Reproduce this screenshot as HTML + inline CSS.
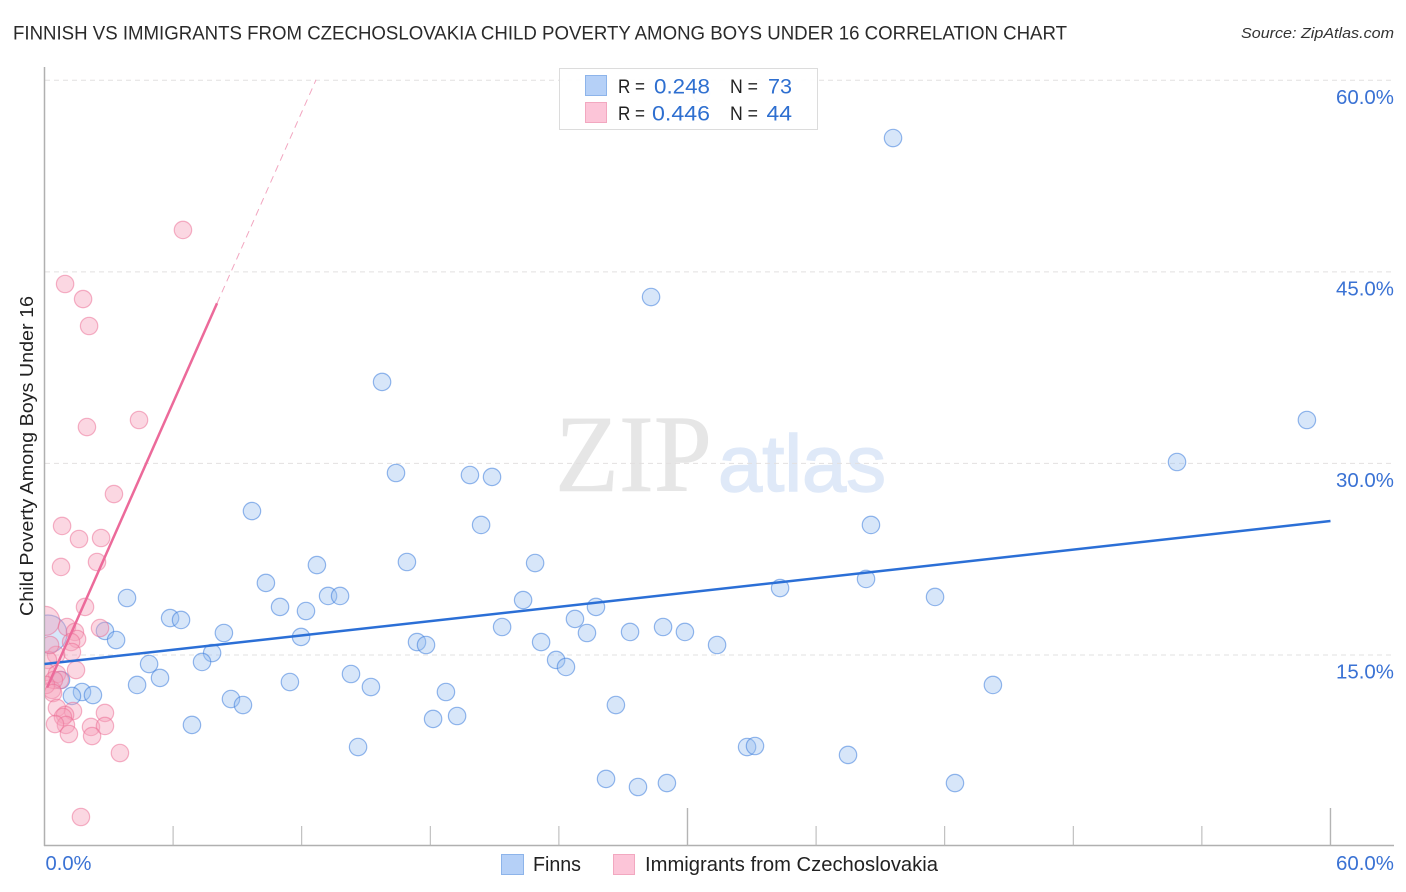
<!DOCTYPE html>
<html lang="en">
<head>
<meta charset="utf-8">
<title>Finnish vs Immigrants from Czechoslovakia Child Poverty Correlation Chart</title>
<style>
html,body{margin:0;padding:0;background:#fff}
svg{display:block}
text{font-family:"Liberation Sans",sans-serif}
</style>
</head>
<body>
<svg id="chart" width="1406" height="892" viewBox="0 0 1406 892" xmlns="http://www.w3.org/2000/svg">
  <defs>
    <clipPath id="plot-clip"><rect x="45" y="68" width="1349" height="778"/></clipPath>
  </defs>
  <text x="13" y="39.5" font-size="19" fill="#2a2a2a" textLength="1054" lengthAdjust="spacingAndGlyphs">FINNISH VS IMMIGRANTS FROM CZECHOSLOVAKIA CHILD POVERTY AMONG BOYS UNDER 16 CORRELATION CHART</text>
  <text x="1241" y="38" font-size="15" font-style="italic" fill="#333" textLength="153" lengthAdjust="spacingAndGlyphs">Source: ZipAtlas.com</text>

  <g>
    <text x="555" y="491" font-size="110" fill="#e6e6e6" stroke="#e6e6e6" stroke-width="0.6" textLength="157" lengthAdjust="spacingAndGlyphs" style="font-family:'Liberation Serif',serif">ZIP</text>
    <text x="718" y="491" font-size="80" fill="#dfe9f8" stroke="#dfe9f8" stroke-width="1.5" textLength="168" lengthAdjust="spacingAndGlyphs">atlas</text>
  </g>

  <g id="grid"></g>
  <g id="axes"></g>
  <g id="points" clip-path="url(#plot-clip)"></g>
  <g id="trends"></g>
  <g id="labels"></g>

  <text transform="translate(33,616) rotate(-90)" x="0" y="0" font-size="18.5" fill="#222" textLength="320" lengthAdjust="spacingAndGlyphs">Child Poverty Among Boys Under 16</text>

  <g>
    <rect x="559.5" y="68.5" width="258" height="61" fill="#fff" fill-opacity="0.92" stroke="#dcdcdc"/>
    <rect x="585.5" y="75.5" width="21" height="20" fill="#b5d0f7" stroke="#8db4ea"/>
    <rect x="585.5" y="102.5" width="21" height="20" fill="#fcc5d8" stroke="#f2a8c0"/>
    <text x="618" y="93" font-size="19.5" fill="#222" textLength="27" lengthAdjust="spacingAndGlyphs">R =</text>
    <text x="654" y="93.5" font-size="21" fill="#2e6fd0" textLength="56" lengthAdjust="spacingAndGlyphs">0.248</text>
    <text x="730" y="93" font-size="19.5" fill="#222" textLength="28" lengthAdjust="spacingAndGlyphs">N =</text>
    <text x="768" y="93.5" font-size="21" fill="#2e6fd0" textLength="24" lengthAdjust="spacingAndGlyphs">73</text>
    <text x="618" y="120" font-size="19.5" fill="#222" textLength="27" lengthAdjust="spacingAndGlyphs">R =</text>
    <text x="652" y="120.5" font-size="21" fill="#2e6fd0" textLength="58" lengthAdjust="spacingAndGlyphs">0.446</text>
    <text x="730" y="120" font-size="19.5" fill="#222" textLength="28" lengthAdjust="spacingAndGlyphs">N =</text>
    <text x="766.5" y="120.5" font-size="21" fill="#2e6fd0" textLength="25.5" lengthAdjust="spacingAndGlyphs">44</text>
  </g>

  <g>
    <rect x="501.5" y="854.5" width="22" height="20" fill="#b5d0f7" stroke="#8db4ea"/>
    <text x="533" y="871" font-size="20" fill="#222" textLength="48" lengthAdjust="spacingAndGlyphs">Finns</text>
    <rect x="613.5" y="854.5" width="21" height="20" fill="#fcc5d8" stroke="#f2a8c0"/>
    <text x="645" y="871" font-size="20" fill="#222" textLength="293" lengthAdjust="spacingAndGlyphs">Immigrants from Czechoslovakia</text>
  </g>
</svg>
<script>
const yTickValues = [15, 30, 45, 60];
const yTickLabels = ["15.0%", "30.0%", "45.0%", "60.0%"];
const xTickValues = [6, 12, 18, 24, 30, 36, 42, 48, 54, 60];
const xTallTicks = [30, 60];
const xEndValues = [0, 60];
const xEndLabels = ["0.0%", "60.0%"];

const finnsX = [39.59,28.30,15.75,58.90,52.84,16.40,19.85,20.88,9.68,20.37,38.56,22.89,16.91,12.71,10.33,34.32,38.33,3.85,13.23,13.79,41.55,22.33,10.99,12.20,25.73,5.86,6.37,24.75,21.35,2.82,28.86,27.32,29.88,25.31,8.37,3.34,11.97,23.17,17.38,17.80,31.38,7.82,7.35,23.87,24.33,4.88,14.30,5.39,11.45,4.32,15.23,44.25,0.77,1.75,2.26,1.28,18.73,8.70,9.26,26.66,18.13,19.25,6.88,14.63,32.78,33.15,37.49,26.20,27.69,29.04,42.48,30.63];
const finnsY = [55.44,42.99,36.34,33.36,30.07,29.21,29.05,28.90,26.23,25.14,25.14,22.16,22.24,22.00,20.60,20.20,20.91,19.42,19.58,19.58,19.50,19.26,18.72,18.40,18.72,17.85,17.70,17.78,17.15,16.84,17.15,16.76,16.76,16.68,16.68,16.13,16.37,15.97,15.97,15.74,15.74,15.11,14.41,14.57,14.02,14.25,13.47,13.16,12.84,12.61,12.45,12.61,13.00,12.06,11.82,11.75,12.06,11.51,11.04,11.04,9.95,10.18,9.48,7.75,7.75,7.83,7.13,5.25,4.62,4.93,4.93,58.97];
const finnsClusterX = [0.16];
const finnsClusterY = [16.60];

const immigrantsX = [6.46,0.96,1.80,2.08,1.98,4.41,3.24,0.82,1.61,2.64,0.77,2.45,1.89,1.05,1.42,1.52,1.24,1.28,2.59,0.54,1.47,0.16,0.07,0.58,0.72,0.35,0.44,0.07,0.40,0.58,1.33,0.96,0.86,1.00,0.49,1.14,2.17,2.82,2.82,2.22,3.52,1.70,0.26];
const immigrantsY = [48.24,44.01,42.83,40.72,32.81,33.36,27.56,25.06,24.04,24.12,21.85,22.24,18.72,17.15,16.76,16.21,15.97,15.19,17.07,14.96,13.78,14.57,13.63,13.47,13.00,12.22,13.00,12.61,11.98,10.81,10.57,10.26,10.10,9.48,9.55,8.77,9.32,10.42,9.40,8.61,7.28,2.27,15.74];
const immigrantsClusterX = [0.03];
const immigrantsClusterY = [17.63];

const finnsTrendX = [0, 60];
const finnsTrendY = [14.25, 25.45];
const immigrantsTrendX = [0.12, 8.05];
const immigrantsTrendY = [12.4, 42.5];
const immigrantsExtensionX = [8.05, 12.67];
const immigrantsExtensionY = [42.5, 60];

const SVG_NS = "http://www.w3.org/2000/svg";
const xScale = v => 44.5 + v * 21.433;
const yScale = v => 846 - v * 12.77;

function make(tag, attrs, parent) {
  const el = document.createElementNS(SVG_NS, tag);
  for (const k in attrs) el.setAttribute(k, attrs[k]);
  parent.appendChild(el);
  return el;
}

const gridG = document.getElementById("grid");
const axesG = document.getElementById("axes");
const pointsG = document.getElementById("points");
const trendsG = document.getElementById("trends");
const labelsG = document.getElementById("labels");

yTickValues.forEach((v, i) => {
  const line = make("line", {x1: 45, x2: 1394, y1: yScale(v) + 0.5, y2: yScale(v) + 0.5, stroke: "#e2e0e0", "stroke-width": 1, "stroke-dasharray": "5 4"}, gridG);
  
  
  const label = make("text", {x: 1394, y: yScale(v) + 24, "text-anchor": "end", "font-size": 20, fill: "#3a72d4", textLength: 58, lengthAdjust: "spacingAndGlyphs"}, labelsG);
  label.textContent = yTickLabels[i];
  
  
});

const yAxisLine = make("line", {x1: 44.5, x2: 44.5, y1: 67, y2: 846, stroke: "#b0b0b0", "stroke-width": 1.5}, axesG);


const xAxisLine = make("line", {x1: 44, x2: 1394, y1: 845.5, y2: 845.5, stroke: "#b0b0b0", "stroke-width": 1.5}, axesG);



xTickValues.forEach(v => {
  const tall = xTallTicks.includes(v);
  const tick = make("line", {x1: xScale(v), x2: xScale(v), y1: tall ? 808 : 826, y2: 846, stroke: "#b4b4b4", "stroke-width": tall ? 1.4 : 1}, axesG);
  
  
});

xEndValues.forEach((v, i) => {
  const atEnd = i === xEndValues.length - 1;
  const label = make("text", {x: atEnd ? 1394 : xScale(v) + 1, y: 870, "text-anchor": atEnd ? "end" : "start", "font-size": 20, fill: "#3a72d4", textLength: atEnd ? 58 : 46, lengthAdjust: "spacingAndGlyphs"}, labelsG);
  label.textContent = xEndLabels[i];
  
  
});

function drawPoint(x, y, r, fill, stroke) {
  return make("circle", {cx: xScale(x), cy: yScale(y), r: r, fill: fill, stroke: stroke, "stroke-width": 1.2}, pointsG);
}

const blueFill = "rgba(150,188,240,0.38)", blueStroke = "rgba(62,125,220,0.55)";
const pinkFill = "rgba(245,160,185,0.42)", pinkStroke = "rgba(235,105,145,0.5)";

finnsClusterX.forEach((x, i) => {
  const c = drawPoint(x, finnsClusterY[i], 19, blueFill, blueStroke);
  
  
});
finnsX.forEach((x, i) => {
  const c = drawPoint(x, finnsY[i], 8.7, blueFill, blueStroke);
  
  
});
immigrantsClusterX.forEach((x, i) => {
  const c = drawPoint(x, immigrantsClusterY[i], 14.5, pinkFill, pinkStroke);
  
  
});
immigrantsX.forEach((x, i) => {
  const c = drawPoint(x, immigrantsY[i], 8.7, pinkFill, pinkStroke);
  
  
});

const finnsTrend = make("line", {x1: xScale(finnsTrendX[0]), y1: yScale(finnsTrendY[0]), x2: xScale(finnsTrendX[1]), y2: yScale(finnsTrendY[1]), stroke: "#2b6fd6", "stroke-width": 2.5}, trendsG);


const immigrantsTrend = make("line", {x1: xScale(immigrantsTrendX[0]), y1: yScale(immigrantsTrendY[0]), x2: xScale(immigrantsTrendX[1]), y2: yScale(immigrantsTrendY[1]), stroke: "#ec6a9a", "stroke-width": 2.5}, trendsG);


const immigrantsExtension = make("line", {x1: xScale(immigrantsExtensionX[0]), y1: yScale(immigrantsExtensionY[0]), x2: xScale(immigrantsExtensionX[1]), y2: yScale(immigrantsExtensionY[1]), stroke: "#f2a6c0", "stroke-width": 1, "stroke-dasharray": "7 5"}, trendsG);


</script>
</body>
</html>
